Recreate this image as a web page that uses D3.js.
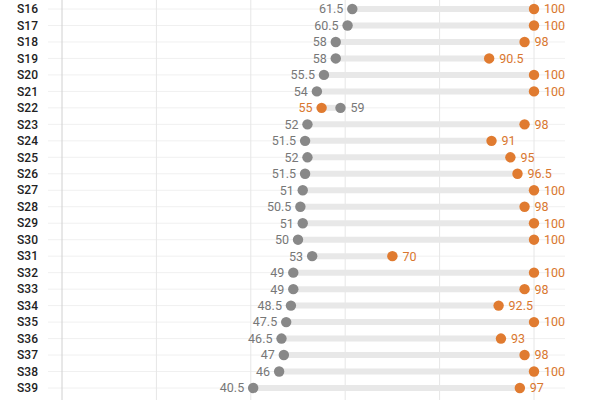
<!DOCTYPE html>
<html>
<head>
<meta charset="utf-8">
<script src="https://cdn.jsdelivr.net/npm/d3@7"></script>
<style>
  body { margin: 0; background: #fff; }
  svg { font-family: Roboto, "Noto Sans", sans-serif; }
</style>
</head>
<body>
<div id="viz"></div>
<script>
var width = 600;
var height = 400;

var students = ["S16","S17","S18","S19","S20","S21","S22","S23","S24","S25","S26","S27",
                "S28","S29","S30","S31","S32","S33","S34","S35","S36","S37","S38","S39"];
var before = [61.5, 60.5, 58, 58, 55.5, 54, 59, 52, 51.5, 52, 51.5, 51,
              50.5, 51, 50, 53, 49, 49, 48.5, 47.5, 46.5, 47, 46, 40.5];
var after  = [100, 100, 98, 90.5, 100, 100, 55, 98, 91, 95, 96.5, 100,
              98, 100, 100, 70, 100, 98, 92.5, 100, 93, 98, 100, 97];
var gridTicks = [0, 20, 40, 60, 80, 100];

var rows = students.map(function (s, i) {
  return { name: s, b: before[i], a: after[i] };
});

var x = d3.scaleLinear().domain([0, 100]).range([62, 534]);
var y = d3.scalePoint().domain(students).range([9, 388]);

var svg = d3.select("#viz").append("svg")
    .attr("width", width)
    .attr("height", height);

// row guide lines
svg.append("g").selectAll("line")
  .data(rows).enter().append("line")
    .attr("x1", 48).attr("x2", 565)
    .attr("y1", function (d) { return y(d.name); })
    .attr("y2", function (d) { return y(d.name); })
    .attr("stroke", "#f0f0f0")
    .attr("stroke-width", 1);

// vertical grid
svg.append("g").selectAll("line")
  .data(gridTicks).enter().append("line")
    .attr("x1", function (d) { return x(d); })
    .attr("x2", function (d) { return x(d); })
    .attr("y1", 0).attr("y2", height)
    .attr("stroke", function (d) { return d === 0 ? "#d0d0d0" : "#e6e6e6"; })
    .attr("stroke-width", 1);

// category labels
svg.append("g").selectAll("text")
  .data(rows).enter().append("text")
    .attr("x", 38)
    .attr("y", function (d) { return y(d.name); })
    .attr("dy", "0.35em")
    .attr("text-anchor", "end")
    .attr("font-size", 12)
    .attr("font-weight", 500)
    .attr("fill", "#222")
    .text(function (d) { return d.name; });

// connecting bars
svg.append("g").selectAll("line")
  .data(rows).enter().append("line")
    .attr("x1", function (d) { return x(d.b); })
    .attr("x2", function (d) { return x(d.a); })
    .attr("y1", function (d) { return y(d.name); })
    .attr("y2", function (d) { return y(d.name); })
    .attr("stroke", "#e8e8e8")
    .attr("stroke-width", 6);

var gray = "#888888";
var orange = "#e07b30";

var g = svg.append("g").selectAll("g")
  .data(rows).enter().append("g")
    .attr("transform", function (d) { return "translate(0," + y(d.name) + ")"; });

g.append("circle")
  .attr("cx", function (d) { return x(d.b); })
  .attr("r", 5.2)
  .attr("fill", gray);

g.append("circle")
  .attr("cx", function (d) { return x(d.a); })
  .attr("r", 5.2)
  .attr("fill", orange);

function fmt(v) { return v % 1 === 0 ? String(v) : v.toFixed(1); }

g.append("text")
  .attr("x", function (d) { return d.b < d.a ? x(d.b) - 9 : x(d.b) + 10; })
  .attr("dy", "0.35em")
  .attr("text-anchor", function (d) { return d.b < d.a ? "end" : "start"; })
  .attr("font-size", 12.5)
  .attr("fill", "#777")
  .text(function (d) { return fmt(d.b); });

g.append("text")
  .attr("x", function (d) { return d.a >= d.b ? x(d.a) + 10 : x(d.a) - 9; })
  .attr("dy", "0.35em")
  .attr("text-anchor", function (d) { return d.a >= d.b ? "start" : "end"; })
  .attr("font-size", 12.5)
  .attr("fill", "#d9772f")
  .text(function (d) { return fmt(d.a); });
</script>
</body>
</html>
